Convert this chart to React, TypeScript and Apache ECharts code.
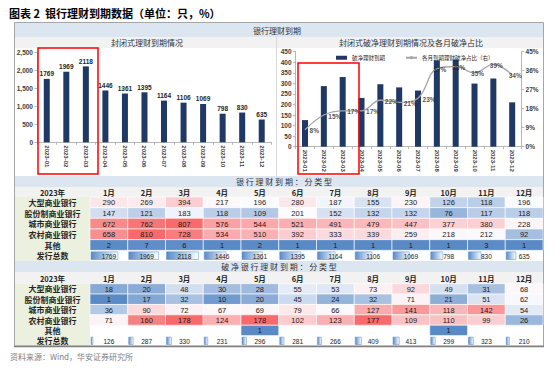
import React, { useEffect, useRef } from 'react';
import * as echarts from 'echarts';

// ---------- data ----------
const periods = ['2023-01', '2023-02', '2023-03', '2023-04', '2023-05', '2023-06', '2023-07', '2023-08', '2023-09', '2023-10', '2023-11', '2023-12'];
const months = ['1月', '2月', '3月', '4月', '5月', '6月', '7月', '8月', '9月', '10月', '11月', '12月'];
const bankTypes = ['大型商业银行', '股份制商业银行', '城市商业银行', '农村商业银行', '其他', '发行总数'];

const closedTotal = [1769, 1969, 2118, 1446, 1361, 1395, 1164, 1106, 1069, 798, 830, 635];
const pnTotal = [126, 287, 330, 231, 296, 281, 266, 409, 413, 299, 323, 210];
const pnShare = [8, 15, 17, 17, 22, 21, 23, 37, 38, 35, 39, 34];

const closedLarge = [290, 269, 394, 217, 196, 280, 187, 155, 230, 126, 118, 196];
const closedJoint = [147, 121, 183, 118, 109, 201, 152, 132, 132, 76, 117, 118];
const closedCity = [672, 762, 807, 576, 544, 521, 491, 479, 447, 377, 380, 228];
const closedRural = [658, 810, 728, 534, 510, 392, 333, 339, 259, 218, 212, 92];
const closedOther = [2, 7, 6, 1, 2, 1, 1, 1, 1, 1, 3, 1];

const pnLarge = [18, 20, 48, 30, 28, 55, 53, 73, 92, 49, 31, 68];
const pnJoint = [1, 17, 32, 10, 20, 45, 24, 32, 71, 21, 51, 62];
const pnCity = [36, 90, 72, 67, 69, 79, 66, 127, 141, 118, 142, 54];
const pnRural = [71, 160, 178, 124, 178, 102, 123, 177, 109, 110, 99, 26];
const pnOther: (number | null)[] = [null, null, null, null, 1, null, null, null, null, 1, null, null];

// ---------- styling helpers ----------
const NUM = '"Liberation Sans", Arial, "Noto Sans CJK SC", sans-serif';
const CJK = '"Noto Sans CJK SC", "Liberation Sans", sans-serif';
const NAVY = '#1f3864';
const BLUE = [90, 138, 198];
const WHITE = [252, 252, 255];
const RED = [248, 105, 107];

function median(arr: number[]) {
  const s = [...arr].sort((a, b) => a - b);
  const pos = (s.length - 1) * 0.5;
  const lo = Math.floor(pos);
  const hi = Math.ceil(pos);
  return s[lo] + (s[hi] - s[lo]) * (pos - lo);
}
function mix(c1: number[], c2: number[], t: number) {
  const k = Math.max(0, Math.min(1, t));
  return 'rgb(' + c1.map((v, i) => Math.round(v + (c2[i] - v) * k)).join(',') + ')';
}
function makeScale(values: number[]) {
  const min = Math.min(...values);
  const max = Math.max(...values);
  const mid = median(values);
  return (v: number) =>
    v <= mid ? mix(BLUE, WHITE, mid === min ? 1 : (v - min) / (mid - min)) : mix(WHITE, RED, (v - mid) / (max - mid));
}

function tableSeries(xi: number, yi: number, rows: (number | null)[][], totals: number[], barMax: number) {
  const scale = makeScale(rows.flat().filter((v) => v != null) as number[]);
  const data: number[][] = [];
  rows.forEach((r, ri) => r.forEach((v, ci) => { if (v != null) data.push([ci, ri, v]); }));
  totals.forEach((v, ci) => data.push([ci, rows.length, v]));
  return {
    type: 'custom',
    xAxisIndex: xi,
    yAxisIndex: yi,
    data,
    encode: { x: 0, y: 1 },
    silent: true,
    renderItem: (params: any, api: any) => {
      const ci = api.value(0);
      const ri = api.value(1);
      const v = api.value(2);
      const c = api.coord([ci, ri]);
      const s = api.size([1, 1]);
      const x0 = c[0] - s[0] / 2;
      const y0 = c[1] - s[1] / 2;
      if (ri < rows.length) {
        return {
          type: 'group',
          children: [
            { type: 'rect', shape: { x: x0, y: y0, width: s[0], height: s[1] }, style: { fill: scale(v), stroke: '#ffffff', lineWidth: 0.6 } },
            { type: 'text', style: { text: String(v), x: c[0], y: c[1] + 0.5, align: 'center', verticalAlign: 'middle', fontSize: 7.5, fontFamily: NUM, fill: '#1a1a1a' } },
          ],
        };
      }
      const len = Math.max(1.5, (v / barMax) * (s[0] * 0.85));
      return {
        type: 'group',
        children: [
          {
            type: 'rect',
            shape: { x: x0 + 1, y: y0 + 1.5, width: len, height: s[1] - 3 },
            style: {
              fill: new echarts.graphic.LinearGradient(0, 0, 1, 0, [
                { offset: 0, color: '#5a8ac6' },
                { offset: 1, color: '#ffffff' },
              ]),
              stroke: '#5a8ac6',
              lineWidth: 0.5,
            },
          },
          { type: 'text', style: { text: String(v), x: c[0], y: c[1] + 0.5, align: 'center', verticalAlign: 'middle', fontSize: 6.5, fontFamily: NUM, fill: '#1a1a1a' } },
        ],
      };
    },
  };
}

function rect(x: number, y: number, w: number, h: number, style: any, z = -1) {
  return { type: 'rect', z, shape: { x, y, width: w, height: h }, style };
}
function text(t: string, x: number, y: number, fontSize: number, extra: any = {}, z = 10) {
  return {
    type: 'text',
    z,
    style: { text: t, x, y, fontSize, fontFamily: CJK, fill: '#333333', align: 'center', verticalAlign: 'middle', ...extra },
  };
}

const chartAxisLine = { show: true, lineStyle: { color: '#a6a6a6', width: 0.8 } };
const chartTick = { show: true, length: 2.5, lineStyle: { color: '#a6a6a6', width: 0.8 } };

export default function App() {
  const ref = useRef<HTMLDivElement>(null);
  useEffect(() => {
    document.body.style.margin = '0';
    if (!ref.current) return;
    const chart = echarts.init(ref.current, undefined, { renderer: 'svg' });
    const barMax = Math.max(...closedTotal);

    const tableX = (grid: number) => ({
      type: 'category',
      gridIndex: grid,
      data: months,
      position: 'top',
      axisLine: { show: false },
      axisTick: { show: false },
      splitLine: { show: false },
      axisLabel: { fontSize: 7.5, fontWeight: 'bold', color: '#262626', margin: 1, interval: 0, fontFamily: CJK },
    });
    const tableY = (grid: number) => ({
      type: 'category',
      gridIndex: grid,
      data: bankTypes,
      inverse: true,
      axisLine: { show: false },
      axisTick: { show: false },
      splitLine: { show: false },
      axisLabel: { fontSize: 8, fontWeight: 'bold', color: '#262626', align: 'center', margin: 37.5, interval: 0, fontFamily: CJK },
    });

    const option: any = {
      animation: false,
      backgroundColor: '#ffffff',
      textStyle: { fontFamily: NUM },
      legend: {
        left: 331,
        top: 50,
        itemWidth: 11,
        itemHeight: 4,
        itemGap: 20,
        textStyle: { fontSize: 5.5, color: '#262626', fontFamily: CJK },
        data: [{ name: '破净理财到期', icon: 'rect' }, { name: '各月到期理财破净占比（右）' }],
      },
      grid: [
        { left: 37, top: 52.7, width: 234.5, height: 89.6 },
        { left: 295.6, top: 51.7, width: 226, height: 95 },
        { left: 90, top: 197, width: 453, height: 64 },
        { left: 90, top: 283.7, width: 453, height: 62.3 },
      ],
      xAxis: [
        {
          type: 'category', gridIndex: 0, data: periods,
          axisLine: chartAxisLine, axisTick: chartTick,
          axisLabel: { rotate: -90, fontSize: 6, color: '#404040', margin: 3, fontWeight: 'bold', interval: 0 },
        },
        {
          type: 'category', gridIndex: 1, data: periods,
          axisLine: chartAxisLine, axisTick: chartTick,
          axisLabel: { rotate: -90, fontSize: 6, color: '#404040', margin: 3, fontWeight: 'bold', interval: 0 },
        },
        tableX(2),
        tableX(3),
      ],
      yAxis: [
        {
          type: 'value', gridIndex: 0, min: 0, max: 2500, interval: 500,
          axisLine: chartAxisLine, axisTick: chartTick, splitLine: { show: false },
          axisLabel: { fontSize: 6.5, fontWeight: 'bold', color: '#404040', margin: 4, formatter: (v: number) => v.toLocaleString('en-US') },
        },
        {
          type: 'value', gridIndex: 1, min: 0, max: 450, interval: 50,
          axisLine: chartAxisLine, axisTick: chartTick, splitLine: { show: false },
          axisLabel: { fontSize: 6.5, fontWeight: 'bold', color: '#404040', margin: 4 },
        },
        {
          type: 'value', gridIndex: 1, position: 'right', min: 0, max: 45, interval: 9,
          axisLine: chartAxisLine, axisTick: chartTick, splitLine: { show: false },
          axisLabel: { fontSize: 6.5, fontWeight: 'bold', color: '#404040', margin: 4, formatter: '{value}%' },
        },
        tableY(2),
        tableY(3),
      ],
      series: [
        {
          type: 'bar', xAxisIndex: 0, yAxisIndex: 0, data: closedTotal, barWidth: 6,
          itemStyle: { color: NAVY },
          label: { show: true, position: 'top', distance: 2, fontSize: 6.5, color: '#262626', fontWeight: 'bold' },
        },
        {
          name: '破净理财到期', type: 'bar', xAxisIndex: 1, yAxisIndex: 1, data: pnTotal, barWidth: 6,
          itemStyle: { color: NAVY },
        },
        {
          name: '各月到期理财破净占比（右）', type: 'line', xAxisIndex: 1, yAxisIndex: 2,
          data: pnShare,
          smooth: 0.4, symbol: 'none',
          lineStyle: { color: '#a6a6a6', width: 1.3 }, itemStyle: { color: '#a6a6a6' },
        },
        {
          type: 'scatter', xAxisIndex: 1, yAxisIndex: 2, silent: true, z: 5,
          data: pnShare.map((v, i) => ({
            value: v,
            label: i < 7 ? { position: 'right', offset: [1, 1] } : { position: 'inside', offset: [3, 1] },
          })),
          symbolSize: 1,
          itemStyle: { color: 'rgba(0,0,0,0)' },
          label: { show: true, formatter: (p: any) => p.value + '%', fontSize: 6.5, color: '#262626', fontWeight: 'bold', distance: 3 },
        },
        tableSeries(2, 3, [closedLarge, closedJoint, closedCity, closedRural, closedOther], closedTotal, barMax),
        tableSeries(3, 4, [pnLarge, pnJoint, pnCity, pnRural, pnOther], pnTotal, barMax),
      ],
      graphic: [
        text('图表 2  银行理财到期数据（单位：只，%）', 9, 13, 11, { align: 'left', fontWeight: 'bold', fill: '#000000' }),
        rect(14.5, 22.5, 529, 323.5, { fill: 'none', stroke: '#a6a6a6', lineWidth: 1 }, 0),
        rect(15, 23, 528, 14, { fill: '#dce6f1' }),
        text('银行理财到期', 277, 30, 8),
        rect(15, 37, 261, 11, { fill: '#f2f2f2' }),
        rect(277, 37, 266, 11, { fill: '#f2f2f2' }),
        text('封闭式理财到期情况', 147, 42.5, 8),
        text('封闭式破净理财到期情况及各月破净占比', 411, 42.5, 8),
        { type: 'line', z: 0, shape: { x1: 276.5, y1: 37, x2: 276.5, y2: 176 }, style: { stroke: '#d9d9d9', lineWidth: 1 } },
        rect(15, 176, 528, 11, { fill: '#dce6f1' }),
        text('银 行 理 财 到 期 ： 分 类 型', 284, 181, 8),
        rect(15, 187, 528, 10, { fill: '#f2f2f2' }),
        text('2023年', 52.5, 192, 7.5, { fontWeight: 'bold', fill: '#262626' }),
        rect(15, 197, 75, 64, { fill: '#ebf1de' }),
        rect(15, 261, 528, 11, { fill: '#dce6f1' }),
        text('破 净 银 行 理 财 到 期 ： 分 类 型', 279, 266.3, 8),
        rect(15, 272, 528, 11.7, { fill: '#f2f2f2' }),
        text('2023年', 52.5, 278, 7.5, { fontWeight: 'bold', fill: '#262626' }),
        rect(15, 283.7, 75, 62.3, { fill: '#ebf1de' }),
        { type: 'line', z: 5, shape: { x1: 14, y1: 346.5, x2: 544, y2: 346.5 }, style: { stroke: '#7f7f7f', lineWidth: 1.5 } },
        rect(38, 48, 60, 126, { fill: 'none', stroke: '#ff0000', lineWidth: 1.5 }, 100),
        rect(298, 63, 61, 111, { fill: 'none', stroke: '#ff0000', lineWidth: 1.5 }, 100),
        text('资料来源：Wind，华安证券研究所', 10, 356, 8, { align: 'left', fill: '#7f7f7f' }),
      ],
    };
    chart.setOption(option);
    return () => chart.dispose();
  }, []);
  return <div ref={ref} style={{ width: 554, height: 368 }} />;
}
